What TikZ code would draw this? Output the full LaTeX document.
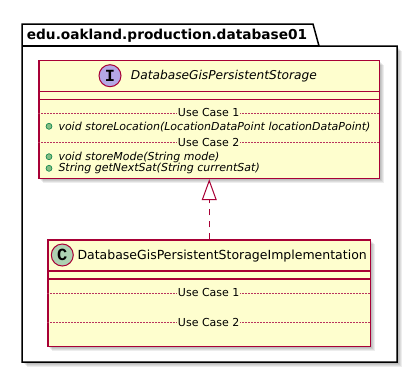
\documentclass[tikz,border=0pt]{standalone}
\usepackage{fontspec}
\setmainfont{DejaVu Sans}
\newfontfamily\glyphfont{Liberation Mono}
\usetikzlibrary{arrows.meta}
\definecolor{umlfill}{HTML}{FEFECE}
\definecolor{umlborder}{HTML}{A80036}
\definecolor{ifcircle}{HTML}{B4A7E5}
\definecolor{clcircle}{HTML}{ADD1B2}
\definecolor{pubfill}{HTML}{84BE84}
\definecolor{pubdraw}{HTML}{038048}
\tikzset{
  umlbox/.style={draw=umlborder, fill=umlfill, line width=1.2pt, inner sep=0pt, anchor=north west},
  headsep/.style={draw=umlborder, line width=1.1pt},
  groupsep/.style={draw=umlborder!80, line width=0.5pt, dash pattern=on 1.5pt off 1.5pt},
  grouplabel/.style={font=\fontsize{11}{13}\selectfont, anchor=base, fill=umlfill, inner sep=1pt},
  member/.style={font=\fontsize{11}{13}\selectfont\itshape, anchor=base west, inner sep=0pt},
  title/.style={font=\fontsize{12.5}{14}\selectfont, anchor=base west, inner sep=0pt},
  bullet/.style={circle, draw=pubdraw, fill=pubfill, line width=0.6pt, minimum size=6pt, inner sep=0pt},
  stereo/.style={circle, draw=umlborder, line width=1pt, minimum size=22pt, inner sep=0pt,
    font=\glyphfont\bfseries\fontsize{17}{17}\selectfont},
  realize/.style={draw=umlborder, line width=1pt, dash pattern=on 6pt off 6pt,
    -{Triangle[open, length=21pt, width=15pt, fill=white]}}
}
\newcommand{\softshadow}[4]{%
  \foreach \d in {2,3,4,5}{\fill[black, opacity=0.07] (#1+\d,#2+\d) rectangle (#3+\d,#4+\d);}}
\begin{document}
\begin{tikzpicture}[x=1pt, y=-1pt]
\useasboundingbox (0,0) rectangle (417,373);
\fill[white] (0,0) rectangle (417,373);

% package frame with its tab
\softshadow{22}{46}{397}{362}
\draw[black, line width=1.5pt, fill=white]
  (22,46) -- (22,24) -- (313,24) -- (319,46) -- (397,46) -- (397,362) -- (22,362) -- cycle;
\draw[black, line width=1.5pt] (22,46) -- (319,46);
\node[anchor=base west, inner sep=0pt, font=\fontsize{13.7}{16}\selectfont\bfseries] (pkg) at (26.7,39.3)
  {edu.oakland.production.database01};

% interface
\softshadow{38.3}{60}{379}{178}
\node[umlbox, minimum width=340.7pt, minimum height=118pt] (ifc) at (38.3,60) {};
\draw[headsep] (38.3,91.7) -- (379,91.7);
\draw[headsep] (38.3,99.3) -- (379,99.3);
\node[stereo, fill=ifcircle] (ifcI) at (110,75.7) {I};
\node[title, font=\fontsize{12.2}{14}\selectfont\itshape] (ifcname) at (130.7,79) {DatabaseGisPersistentStorage};
\draw[groupsep] (38.3,113.3) -- (379,113.3);
\node[grouplabel] (ifcuc1) at (208.7,116.7) {Use Case 1};
\node[bullet] (b1) at (49,126.3) {};
\node[member] (m1) at (58.3,130) {void storeLocation(LocationDataPoint locationDataPoint)};
\draw[groupsep] (38.3,142.7) -- (379,142.7);
\node[grouplabel] (ifcuc2) at (208.7,146) {Use Case 2};
\node[bullet] (b2) at (49,156.7) {};
\node[member] (m2) at (58.3,160) {void storeMode(String mode)};
\node[bullet] (b3) at (49,168.3) {};
\node[member] (m3) at (58.3,171.7) {String getNextSat(String currentSat)};

% implementing class
\softshadow{47.3}{239.3}{370}{345.7}
\node[umlbox, minimum width=322.7pt, minimum height=106.4pt] (cls) at (47.3,239.3) {};
\draw[headsep] (47.3,271) -- (370,271);
\draw[headsep] (47.3,279) -- (370,279);
\node[stereo, fill=clcircle] (clsC) at (62.3,255) {C};
\node[title] (clsname) at (77.3,259.3) {DatabaseGisPersistentStorageImplementation};
\draw[groupsep] (47.3,293.3) -- (370,293.3);
\node[grouplabel] (clsuc1) at (208.7,296.7) {Use Case 1};
\draw[groupsep] (47.3,322.7) -- (370,322.7);
\node[grouplabel] (clsuc2) at (208.7,326) {Use Case 2};

% realization
\draw[realize] (cls.north) -- (ifc.south);
\end{tikzpicture}
\end{document}
